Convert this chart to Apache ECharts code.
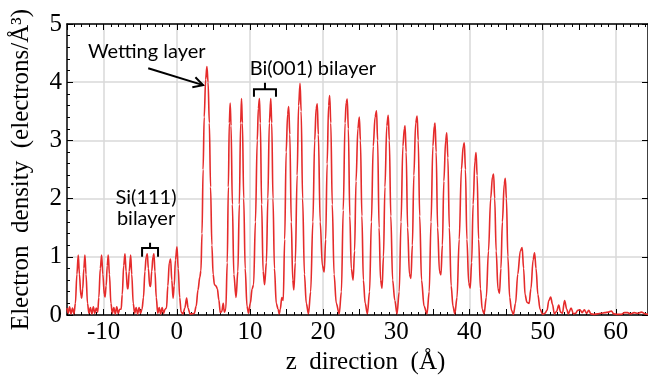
<!DOCTYPE html>
<html>
<head>
<meta charset="utf-8">
<script src="https://cdn.jsdelivr.net/npm/echarts@6/dist/echarts.min.js"></script>
<style>
  html, body { margin: 0; padding: 0; background: #fff; }
  #chart { width: 648px; height: 377px; }
</style>
</head>
<body>
<div id="chart"></div>
<script>
// electron density profile, [z (Å), rho (electrons/Å^3)]
const siSubstrate = [
  [-15.0,0.12],[-14.85,0.03],[-14.65,0.14],[-14.45,0.02],[-14.25,0.12],[-14.05,0.02],
  [-13.85,0.2],[-13.65,0.7],[-13.46,1.03],[-13.3,0.7],[-13.1,0.33],[-13.0,0.29],[-12.85,0.45],
  [-12.7,0.8],[-12.55,1.03],[-12.4,0.7],[-12.2,0.2],[-12.0,0.03],[-11.8,0.13],[-11.6,0.02],
  [-11.4,0.14],[-11.2,0.03],[-11.0,0.12],[-10.8,0.05],[-10.65,0.3],[-10.45,0.8],[-10.27,1.03],
  [-10.1,0.7],[-9.9,0.35],[-9.8,0.31],[-9.65,0.5],[-9.5,0.85],[-9.36,1.03],[-9.2,0.7],
  [-9.0,0.2],[-8.8,0.03],[-8.6,0.13],[-8.4,0.02],[-8.2,0.14],[-8.0,0.03],[-7.8,0.1],
  [-7.6,0.1],[-7.45,0.35],[-7.25,0.85],[-7.08,1.05],[-6.92,0.75],[-6.75,0.45],[-6.65,0.45],
  [-6.5,0.75],[-6.3,1.03],[-6.15,0.7],[-5.95,0.2],[-5.75,0.03],[-5.55,0.13],[-5.35,0.02],
  [-5.15,0.13],[-4.95,0.03],[-4.75,0.1],[-4.55,0.3],[-4.35,0.75],[-4.18,1.0],[-4.03,1.05],
  [-3.88,0.8],[-3.7,0.5],[-3.58,0.49],[-3.42,0.75],[-3.25,1.0],[-3.12,1.05],[-2.98,0.75],
  [-2.8,0.3],[-2.6,0.03],[-2.4,0.13],[-2.2,0.02],[-2.0,0.13],[-1.8,0.03],[-1.6,0.1],
  [-1.4,0.12],[-1.22,0.5],[-1.02,0.9],[-0.84,0.96],[-0.68,0.6],[-0.5,0.29],[-0.35,0.5],
  [-0.18,0.95],[0.03,1.17],[0.2,0.8],[0.4,0.3],[0.6,0.05],[0.85,0.02],[1.1,0.12],
  [1.35,0.29],[1.55,0.12],[1.8,0.02],[2.1,0.02],[2.4,0.03]
];
const wettingLayer = [
  [2.65,0.15],[2.9,0.43],[3.15,0.65],[3.3,0.76],[3.45,1.4],[3.6,2.5],[3.75,3.4],[3.95,4.05],
  [4.12,4.27],[4.28,4.0],[4.45,3.3],[4.62,2.2],[4.8,1.2],[4.97,0.7],[5.15,0.52],[5.35,0.5],
  [5.55,0.45],[5.75,0.26],[5.95,0.04],[6.15,0.06],[6.35,0.2],[6.5,0.05]
];
const biFilm = [
  [6.7,0.1],[6.9,0.9],[7.05,2.2],[7.18,3.3],[7.3,3.64],[7.42,3.25],[7.6,1.9],[7.8,0.7],
  [8.1,0.3],[8.35,0.75],[8.55,1.9],[8.73,3.3],[8.85,3.72],[8.97,3.3],[9.15,2.0],[9.35,0.8],
  [9.6,0.15],[9.8,0.03],[10.05,0.2],[10.3,0.45],[10.5,0.52],[10.75,1.6],[11.0,3.0],[11.15,3.55],
  [11.3,3.72],[11.42,3.3],[11.6,1.9],[11.8,0.75],[12.0,0.52],[12.25,0.9],[12.45,2.0],[12.65,3.3],
  [12.85,3.72],[12.98,3.3],[13.15,2.0],[13.35,0.8],[13.6,0.2],[13.85,0.1],[14.0,0.02],[14.15,0.1],
  [14.35,0.3],[14.55,0.25],[14.75,1.3],[14.95,2.8],[15.15,3.45],[15.3,3.58],[15.45,3.1],[15.65,1.6],
  [15.85,0.6],[16.0,0.43],[16.2,0.9],[16.45,2.4],[16.65,3.6],[16.85,3.98],[17.0,3.5],[17.2,2.0],
  [17.45,0.7],[17.7,0.2],[18.0,0.02],[18.3,0.4],[18.6,1.6],[18.85,3.0],[19.05,3.55],[19.2,3.63],
  [19.35,3.1],[19.6,1.6],[19.9,0.85],[20.15,0.74],[20.35,1.3],[20.55,2.6],[20.75,3.6],[20.9,3.77],
  [21.05,3.3],[21.25,1.9],[21.5,0.7],[21.8,0.2],[22.2,0.02],[22.5,0.4],[22.75,1.8],[23.0,3.3],
  [23.15,3.65],[23.3,3.71],[23.45,3.2],[23.65,1.7],[23.85,0.8],[24.1,0.6],[24.3,1.1],[24.5,2.3],
  [24.75,3.2],[24.95,3.4],[25.1,3.0],[25.3,1.7],[25.5,0.6],[25.75,0.2],[26.05,0.02],[26.35,0.4],
  [26.6,1.6],[26.85,2.9],[27.1,3.4],[27.3,3.51],[27.45,3.0],[27.65,1.5],[27.85,0.6],[28.05,0.46],
  [28.25,1.0],[28.45,2.2],[28.7,3.25],[28.9,3.43],[29.05,3.0],[29.25,1.7],[29.5,0.6],[29.8,0.25],
  [30.1,0.02],[30.4,0.4],[30.65,1.6],[30.9,2.9],[31.1,3.2],[31.2,3.25],[31.35,2.8],[31.55,1.5],
  [31.8,0.7],[32.0,0.63],[32.2,1.2],[32.4,2.4],[32.65,3.3],[32.85,3.42],[33.0,3.0],[33.2,1.7],
  [33.45,0.6],[33.8,0.15],[34.2,0.02],[34.5,0.4],[34.75,1.6],[35.0,2.9],[35.2,3.25],[35.3,3.3],
  [35.45,2.8],[35.65,1.5],[35.9,0.75],[36.1,0.69],[36.3,1.2],[36.5,2.3],[36.75,3.0],[36.9,3.13],
  [37.05,2.7],[37.25,1.5],[37.5,0.5],[37.75,0.15],[38.0,0.02],[38.3,0.3],[38.6,1.3],[38.9,2.5],
  [39.15,2.9],[39.3,2.96],[39.45,2.5],[39.65,1.3],[39.9,0.55],[40.1,0.46],[40.3,0.9],[40.5,1.9],
  [40.75,2.65],[40.9,2.79],[41.05,2.4],[41.25,1.3],[41.5,0.45],[41.75,0.1],[42.0,0.02],[42.3,0.3],
  [42.6,1.1],[42.9,2.0],[43.15,2.38],[43.3,2.42],[43.45,2.0],[43.65,1.1],[43.9,0.45],[44.1,0.37],
  [44.3,0.8],[44.5,1.6],[44.75,2.25],[44.9,2.35],[45.05,2.0],[45.25,1.0],[45.5,0.3],[45.75,0.08],
  [46.0,0.01],[46.3,0.2],[46.6,0.7],[46.95,1.1],[47.2,1.16],[47.4,0.8],[47.6,0.35],[47.85,0.22],
  [48.15,0.2],[48.4,0.45],[48.7,0.95],[48.9,1.07],[49.1,0.8],[49.35,0.35],[49.65,0.1],[50.0,0.01]
];
const vacuum = [
  [50.3,0.03],[50.6,0.08],[50.85,0.25],[51.1,0.31],[51.35,0.18],[51.6,0.02],[51.9,0.06],[52.2,0.17],
  [52.45,0.05],[52.7,0.03],[53.0,0.25],[53.3,0.1],[53.5,0.02],[53.9,0.12],[54.2,0.02],[54.5,0.03],
  [54.8,0.08],[55.1,0.09],[55.4,0.04],[55.7,0.09],[56.0,0.03],[56.3,0.08],[56.6,0.02],[57.0,0.01],
  [57.5,0.02],[58.0,0.03],[58.5,0.04],[59.0,0.05],[59.4,0.07],[59.7,0.02],[60.2,0.01],[60.7,0.01],
  [61.2,0.04],[61.6,0.04],[62.0,0.02],[62.5,0.04],[63.0,0.03],[63.5,0.05],[64.0,0.02],[64.4,0.01]
];

const profile = siSubstrate.concat(wettingLayer, biFilm, vacuum);

const serif = 'Liberation Serif';
const sans = 'Lato';

const chart = echarts.init(document.getElementById('chart'));

const frameTick = { inside: true, length: 6, lineStyle: { color: '#000', width: 1 } };
const frameMinor = { show: true, splitNumber: 5, length: 3, lineStyle: { color: '#000', width: 1 } };
const frameLine = { show: true, onZero: false, lineStyle: { color: '#000', width: 1.5 } };

chart.setOption({
  animation: false,
  grid: { left: 67, right: 0, top: 24, bottom: 62, outerBoundsMode: 'none' },
  xAxis: [
    {
      type: 'value', min: -15, max: 64.4, interval: 5,
      axisLine: frameLine, axisTick: frameTick, minorTick: frameMinor,
      axisLabel: {
        formatter: v => (v % 10 === 0 ? String(v) : ''),
        fontFamily: serif, fontSize: 25, color: '#000', margin: 5
      },
      splitLine: { show: true, lineStyle: { color: ['transparent', '#d9d9d9'], width: 1.5 } },
      name: 'z  direction  (Å)', nameLocation: 'middle', nameGap: 34,
      nameTextStyle: { fontFamily: serif, fontSize: 25, color: '#000', padding: [0, 0, 0, 16] }
    },
    {
      type: 'value', position: 'top', min: -15, max: 64.4, interval: 5,
      axisLine: frameLine, axisTick: frameTick, minorTick: frameMinor,
      axisLabel: { show: false }, splitLine: { show: false }
    }
  ],
  yAxis: [
    {
      type: 'value', min: 0, max: 5, interval: 1,
      axisLine: frameLine, axisTick: frameTick, minorTick: frameMinor,
      axisLabel: { fontFamily: serif, fontSize: 25, color: '#000', margin: 5 },
      splitLine: { show: true, lineStyle: { color: '#d9d9d9', width: 1.5 } },
      name: 'Electron  density  (electrons/Å³)', nameLocation: 'middle', nameGap: 33,
      nameTextStyle: { fontFamily: serif, fontSize: 25, color: '#000' }
    },
    {
      type: 'value', position: 'right', min: 0, max: 5, interval: 1,
      axisLine: frameLine, axisTick: frameTick,
      axisLabel: { show: false }, splitLine: { show: false }
    }
  ],
  series: [
    {
      type: 'line',
      data: profile,
      showSymbol: false,
      smooth: 0.35,
      smoothMonotone: 'x',
      lineStyle: { color: '#e52b2b', width: 1.6 }
    }
  ]
});

// annotations, placed in data coordinates
const toPx = (z, rho) => chart.convertToPixel({ xAxisIndex: 0, yAxisIndex: 0 }, [z, rho]);

const note = (text, z, rho) => {
  const p = toPx(z, rho);
  return {
    type: 'text', x: p[0], y: p[1],
    style: { text, fontFamily: sans, fontSize: 20, fill: '#000', align: 'center', verticalAlign: 'middle' }
  };
};

const brace = (z1, z2, rhoTop, rhoBar, rhoEnd) => {
  const zc = (z1 + z2) / 2;
  const pts = [
    toPx(z1, rhoEnd), toPx(z1, rhoBar), toPx(zc, rhoBar), toPx(zc, rhoTop),
    toPx(zc, rhoBar), toPx(z2, rhoBar), toPx(z2, rhoEnd)
  ];
  return { type: 'polyline', shape: { points: pts }, style: { stroke: '#000', lineWidth: 2, fill: null } };
};

const arrow = (zFrom, rhoFrom, zTo, rhoTo) => {
  const a = toPx(zFrom, rhoFrom);
  const b = toPx(zTo, rhoTo);
  const ang = Math.atan2(b[1] - a[1], b[0] - a[0]);
  const head = 11, spread = 0.5;
  const h1 = [b[0] - head * Math.cos(ang - spread), b[1] - head * Math.sin(ang - spread)];
  const h2 = [b[0] - head * Math.cos(ang + spread), b[1] - head * Math.sin(ang + spread)];
  return [
    { type: 'line', shape: { x1: a[0], y1: a[1], x2: b[0], y2: b[1] }, style: { stroke: '#000', lineWidth: 2 } },
    { type: 'polyline', shape: { points: [h1, b, h2] }, style: { stroke: '#000', lineWidth: 2, fill: null } }
  ];
};

chart.setOption({
  graphic: [
    note('Wetting layer', -4.1, 4.52),
    ...arrow(-3.9, 4.24, 3.6, 3.95),
    note('Bi(001) bilayer', 18.6, 4.24),
    brace(10.55, 13.56, 3.99, 3.88, 3.75),
    note('Si(111)', -4.2, 2.01),
    note('bilayer', -4.2, 1.65),
    brace(-4.74, -2.56, 1.24, 1.15, 1.0)
  ]
});
</script>
</body>
</html>
